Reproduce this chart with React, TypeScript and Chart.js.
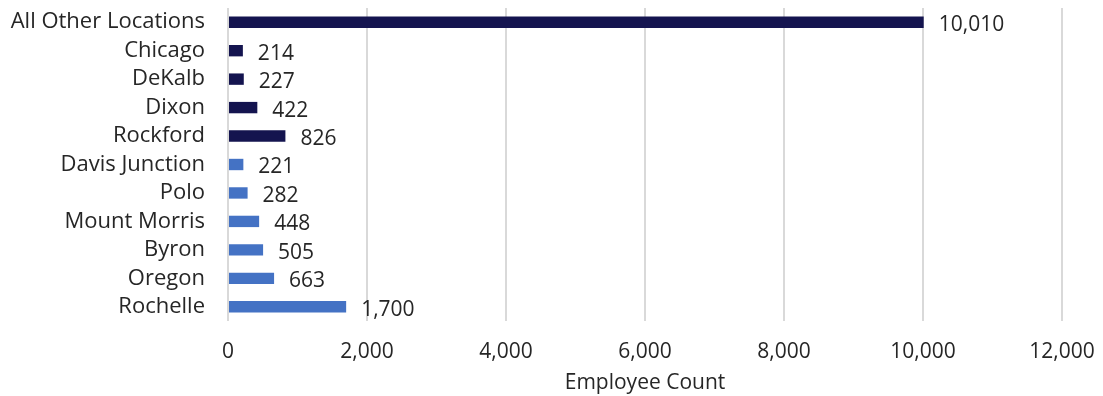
import React, { useEffect, useRef } from "react";
import { Chart, registerables } from "chart.js";

Chart.register(...registerables);

const categories = [
  "All Other Locations",
  "Chicago",
  "DeKalb",
  "Dixon",
  "Rockford",
  "Davis Junction",
  "Polo",
  "Mount Morris",
  "Byron",
  "Oregon",
  "Rochelle",
];
const employeeCounts = [10010, 214, 227, 422, 826, 221, 282, 448, 505, 663, 1700];
const barColors = [
  "#14144f", "#14144f", "#14144f", "#14144f", "#14144f",
  "#4472c4", "#4472c4", "#4472c4", "#4472c4", "#4472c4", "#4472c4",
];
const xTicks = [0, 2000, 4000, 6000, 8000, 10000, 12000];
const xTitle = "Employee Count";

const FONT = "'Open Sans', 'Noto Sans', sans-serif";
const FS = 21;
const fmt = (v: number) => v.toLocaleString("en-US");

const labelPlugin = {
  id: "valueLabels",
  afterDatasetsDraw(chart: any) {
    const ctx = chart.ctx;
    const meta = chart.getDatasetMeta(0);
    ctx.save();
    ctx.font = `${FS}px ${FONT}`;
    ctx.fillStyle = "#262626";
    ctx.textAlign = "left";
    ctx.textBaseline = "middle";
    meta.data.forEach((bar: any, i: number) => {
      ctx.fillText(fmt(employeeCounts[i]), bar.x + 15, bar.y + 3);
    });
    ctx.restore();
  },
};

export default function App() {
  const ref = useRef<HTMLCanvasElement>(null);
  useEffect(() => {
    if (!ref.current) return;
    const chart = new Chart(ref.current, {
      type: "bar",
      data: {
        labels: categories,
        datasets: [
          {
            data: employeeCounts,
            backgroundColor: barColors,
            barPercentage: 0.8,
            categoryPercentage: 0.5,
          },
        ],
      },
      options: {
        indexAxis: "y",
        animation: false,
        responsive: false,
        maintainAspectRatio: false,
        layout: { padding: { top: 8, right: 41, left: 0, bottom: 0 } },
        plugins: { legend: { display: false }, tooltip: { enabled: false } },
        scales: {
          x: {
            min: 0,
            max: 12000,
            afterBuildTicks: (s: any) => {
              s.ticks = xTicks.map((v) => ({ value: v }));
            },
            afterFit: (s: any) => {
              s.height = 396 - 321;
              s.paddingLeft = 0;
              s.paddingRight = 0;
            },
            grid: { color: "#d9d9d9", lineWidth: 2, drawTicks: false },
            border: { display: false },
            ticks: {
              padding: 18,
              color: "#262626",
              font: { family: FONT, size: FS },
              callback: (v: any) => fmt(Number(v)),
            },
            title: {
              display: true,
              text: xTitle,
              color: "#262626",
              font: { family: FONT, size: FS },
              padding: { top: 0, bottom: 0 },
            },
          },
          y: {
            afterFit: (s: any) => {
              s.width = 228;
              s.paddingTop = 0;
              s.paddingBottom = 0;
            },
            grid: { display: false, drawTicks: false },
            border: { display: false },
            ticks: {
              padding: 23,
              color: "#262626",
              font: { family: FONT, size: 22 },
              autoSkip: false,
            },
          },
        },
      },
      plugins: [labelPlugin],
    });
    return () => chart.destroy();
  }, []);
  return (
    <div style={{ position: "fixed", left: 0, top: 0, width: 1103, height: 396, background: "#fff" }}>
      <canvas ref={ref} width={1103} height={396} />
    </div>
  );
}
